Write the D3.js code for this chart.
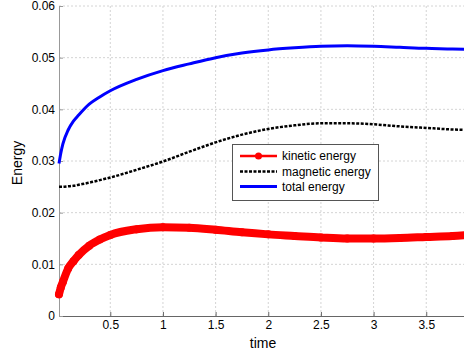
<!DOCTYPE html>
<html>
<head>
<meta charset="utf-8">
<script src="https://cdn.jsdelivr.net/npm/d3@7"></script>
<style>
  body { margin: 0; background: #fff; }
  svg { display: block; font-family: "Liberation Sans", Arial, sans-serif; }
</style>
</head>
<body>
<div class="chart"></div>
<script>
const time = [0.013, 0.03, 0.05, 0.1, 0.15, 0.2, 0.3, 0.4, 0.5, 0.75, 1, 1.25, 1.5, 1.75, 2, 2.25, 2.5, 2.75, 3, 3.25, 3.5, 3.75, 3.9];
const kinetic = [0.0042, 0.0055, 0.0066, 0.0092, 0.0106, 0.0118, 0.0136, 0.0148, 0.0157, 0.0168, 0.0172, 0.0171, 0.0167, 0.0162, 0.0158, 0.0155, 0.0152, 0.0150, 0.0150, 0.0151, 0.0153, 0.0155, 0.0157];
const magnetic = [0.0250, 0.0250, 0.0250, 0.0251, 0.0252, 0.0254, 0.0258, 0.0263, 0.0268, 0.0283, 0.0299, 0.0318, 0.0336, 0.0351, 0.0362, 0.0369, 0.0373, 0.0373, 0.0371, 0.0367, 0.0364, 0.0361, 0.0360];
const total = [0.0295, 0.0315, 0.0333, 0.0360, 0.0377, 0.0389, 0.0410, 0.0424, 0.0436, 0.0458, 0.0475, 0.0488, 0.0500, 0.0509, 0.0515, 0.0519, 0.0522, 0.0523, 0.0522, 0.0520, 0.0518, 0.0517, 0.0516];
const xTicks = [0.5, 1, 1.5, 2, 2.5, 3, 3.5];
const yTicks = [0, 0.01, 0.02, 0.03, 0.04, 0.05, 0.06];
const seriesNames = ["kinetic energy", "magnetic energy", "total energy"];

const w = 464;
const h = 358;
const margin = { top: 6, left: 59, bottom: 42 };

const x = d3.scaleLinear().domain([0.013, 4]).range([margin.left, 478.9]);
const y = d3.scaleLinear().domain([0, 0.06]).range([h - margin.bottom, margin.top]);

const svg = d3.select(".chart")
  .append("svg")
  .attr("width", w)
  .attr("height", h);

// grid
svg.append("g").selectAll("line")
  .data(xTicks)
  .enter().append("line")
  .attr("x1", d => x(d)).attr("x2", d => x(d))
  .attr("y1", y(0)).attr("y2", y(0.06))
  .attr("stroke", "#d4d4d4").attr("stroke-dasharray", "2,2");

svg.append("g").selectAll("line")
  .data(yTicks.slice(1))
  .enter().append("line")
  .attr("x1", margin.left).attr("x2", w)
  .attr("y1", d => y(d)).attr("y2", d => y(d))
  .attr("stroke", "#d4d4d4").attr("stroke-dasharray", "2,2");

// axes
const xAxis = svg.append("g")
  .attr("transform", `translate(0,${y(0)})`)
  .call(d3.axisBottom(x).tickValues(xTicks).tickSizeInner(-4).tickSizeOuter(0).tickPadding(4).tickFormat(d3.format("")));
xAxis.select(".domain").attr("stroke", "#666");
xAxis.selectAll(".tick line").attr("stroke", "#666");
xAxis.selectAll("text").attr("font-size", 12).attr("fill", "#000");

const yAxis = svg.append("g")
  .attr("transform", `translate(${margin.left},0)`)
  .call(d3.axisLeft(y).tickValues(yTicks).tickSizeInner(-4).tickSizeOuter(0).tickPadding(4).tickFormat(d => d === 0 ? "0" : d3.format(".2f")(d)));
yAxis.select(".domain").attr("stroke", "#999");
yAxis.selectAll(".tick line").attr("stroke", "#999");
yAxis.selectAll("text").attr("font-size", 12).attr("fill", "#000");

// labels
svg.append("text")
  .attr("x", 263).attr("y", 348)
  .attr("text-anchor", "middle")
  .attr("font-size", 14)
  .text("time");

svg.append("text")
  .attr("transform", "translate(22,163) rotate(-90)")
  .attr("text-anchor", "middle")
  .attr("font-size", 14)
  .text("Energy");

const line = d3.line()
  .x(d => x(d[0]))
  .y(d => y(d[1]))
  .curve(d3.curveMonotoneX);

const kinData = time.map((t, i) => [t, kinetic[i]]);
const magData = time.map((t, i) => [t, magnetic[i]]);
const totData = time.map((t, i) => [t, total[i]]);

// kinetic: dense markers look like a thick band
svg.append("path")
  .attr("d", line(kinData))
  .attr("fill", "none")
  .attr("stroke", "#ff0000")
  .attr("stroke-width", 8)
  .attr("stroke-linejoin", "round")
  .attr("stroke-linecap", "round");
svg.append("g").selectAll("circle")
  .data(kinData)
  .enter().append("circle")
  .attr("cx", d => x(d[0]))
  .attr("cy", d => y(d[1]))
  .attr("r", 4)
  .attr("fill", "#ff0000");

svg.append("path")
  .attr("d", line(magData))
  .attr("fill", "none")
  .attr("stroke", "#000")
  .attr("stroke-width", 2.5)
  .attr("stroke-dasharray", "3,1.5");

svg.append("path")
  .attr("d", line(totData))
  .attr("fill", "none")
  .attr("stroke", "#0000ff")
  .attr("stroke-width", 3);

// legend
const legend = svg.append("g").attr("class", "legend");
legend.append("rect")
  .attr("x", 232.5).attr("y", 144.5)
  .attr("width", 146).attr("height", 56)
  .attr("fill", "#fff").attr("stroke", "#555");

const legendY = [156, 171.5, 186.5];
const legendStyle = [
  { color: "#ff0000", width: 2.5, dash: null },
  { color: "#000", width: 2.5, dash: "3,1.5" },
  { color: "#0000ff", width: 3, dash: null }
];

const items = legend.selectAll("g.item")
  .data(seriesNames)
  .enter().append("g").attr("class", "item");

items.append("line")
  .attr("x1", 240).attr("x2", 277)
  .attr("y1", (d, i) => legendY[i]).attr("y2", (d, i) => legendY[i])
  .attr("stroke", (d, i) => legendStyle[i].color)
  .attr("stroke-width", (d, i) => legendStyle[i].width)
  .attr("stroke-dasharray", (d, i) => legendStyle[i].dash);

items.append("text")
  .attr("x", 282).attr("y", (d, i) => legendY[i] + 4)
  .attr("font-size", 12)
  .text(d => d);

legend.append("circle")
  .attr("cx", 258.5).attr("cy", legendY[0])
  .attr("r", 3.5)
  .attr("fill", "#ff0000");
</script>
</body>
</html>
